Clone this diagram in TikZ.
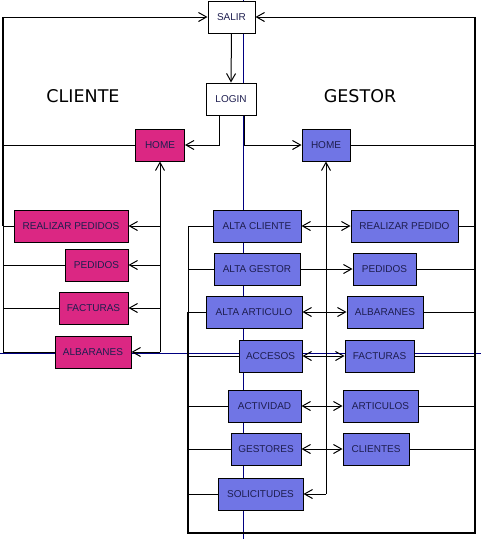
\documentclass[tikz,border=0pt]{standalone}
\usepackage{fontspec}
\setmainfont{Liberation Sans}
\newfontfamily\titulofont{DejaVu Sans}
\usepackage{tikz}
\usetikzlibrary{arrows.meta}
\definecolor{cliente}{RGB}{219,39,131}
\definecolor{gestor}{RGB}{112,117,229}
\definecolor{texto}{RGB}{30,30,80}
\definecolor{eje}{RGB}{0,0,128}

\begin{document}
\begin{tikzpicture}[x=1pt,y=-1pt,
  caja/.style={draw,line width=1pt,minimum height=32pt,inner sep=0pt,font=\fontsize{10}{12}\selectfont,text=texto},
  blanca/.style={caja,fill=white},
  cli/.style={caja,fill=cliente},
  ges/.style={caja,fill=gestor},
  linea/.style={line width=1pt},
  marco/.style={line width=2pt},
  flecha/.style={linea,-{Straight Barb[length=8pt,width=9pt]}},
  dflecha/.style={linea,{Straight Barb[length=8pt,width=9pt]}-{Straight Barb[length=8pt,width=9pt]}},
  titulo/.style={font=\titulofont\fontsize{17.5}{20}\selectfont}]
\useasboundingbox (0,0) rectangle (481,539);
\draw[eje] (243,0) -- (243,539);
\draw[eje] (0,353) -- (481,353);

\coordinate (izq) at (3,17);
\coordinate (der) at (475,17);
\coordinate (izqb) at (3,352);
\coordinate (esqb) at (188,533);
\coordinate (cspine) at (160,352);
\coordinate (gspine) at (326,494);

\node[blanca,minimum width=47pt] (salir) at (231.5,17) {SALIR};
\node[blanca,minimum width=50pt] (login) at (231,99) {LOGIN};
\node[titulo] (tcli) at (83,96) {CLIENTE};
\node[titulo] (tges) at (360,96) {GESTOR};
\node[cli,minimum width=49pt] (chome) at (160,145) {HOME};
\node[ges,minimum width=48pt] (ghome) at (326,145) {HOME};

\node[cli,minimum width=114pt] (crp) at (71,226) {REALIZAR PEDIDOS};
\node[cli,minimum width=63pt] (cped) at (96.5,265) {PEDIDOS};
\node[cli,minimum width=69pt] (cfac) at (93.5,308) {FACTURAS};
\node[cli,minimum width=76pt] (calb) at (93,352) {ALBARANES};

\node[ges,minimum width=88pt] (gacli) at (257,226) {ALTA CLIENTE};
\node[ges,minimum width=86pt] (gages) at (257,269) {ALTA GESTOR};
\node[ges,minimum width=96pt] (gaart) at (254,312) {ALTA ARTICULO};
\node[ges,minimum width=63pt] (gacc) at (270.5,356) {ACCESOS};
\node[ges,minimum width=73pt] (gact) at (264.5,406) {ACTIVIDAD};
\node[ges,minimum width=70pt] (gges) at (266,449) {GESTORES};
\node[ges,minimum width=85pt] (gsol) at (260.5,494) {SOLICITUDES};

\node[ges,minimum width=107pt] (grp) at (404.5,226) {REALIZAR PEDIDO};
\node[ges,minimum width=63pt] (gped) at (384.5,269) {PEDIDOS};
\node[ges,minimum width=76pt] (galb) at (385,312) {ALBARANES};
\node[ges,minimum width=69pt] (gfac) at (379.5,356) {FACTURAS};
\node[ges,minimum width=75pt] (gart) at (380.5,406) {ARTICULOS};
\node[ges,minimum width=66pt] (gcli) at (376,449) {CLIENTES};

\draw[marco] (izq) -- (izq |- crp.west);
\draw[linea] (izq |- crp.west) -- (izqb);
\draw[flecha] (izq) -- (salir.west);
\draw[flecha] (der) -- (salir.east);
\draw[marco] (der) |- (esqb) -- (esqb |- gaart.west);
\draw[linea] (esqb |- gaart.west) -- (esqb |- gacli.west);
\draw[flecha] (salir.south) -- (login.north);
\draw[flecha] ([xshift=-12pt]login.south) |- (chome.east);
\draw[flecha] ([xshift=13pt]login.south) |- (ghome.west);
\draw[linea] (chome.west) -- (chome.west -| izq);
\draw[linea] (ghome.east) -- (ghome.east -| der);

\draw[flecha] (cspine) -- (chome.south);
\foreach \n in {crp,cped,cfac,calb} {
  \draw[linea] (\n.west) -- (\n.west -| izq);
  \draw[flecha] (\n.east -| cspine) -- (\n.east);
}

\draw[flecha] (gspine) -- (ghome.south);
\foreach \a/\b in {gacli/grp,gaart/galb,gacc/gfac,gact/gart,gges/gcli}
  \draw[dflecha] (\a.east) -- (\b.west);
\draw[flecha] (gages.east) -- (gped.west);
\draw[flecha] (gspine) -- (gsol.east);
\foreach \n in {gacli,gages,gaart,gacc,gact,gges,gsol}
  \draw[linea] (\n.west) -- (\n.west -| esqb);
\foreach \n in {grp,gped,galb,gfac,gart,gcli}
  \draw[linea] (\n.east) -- (\n.east -| der);
\end{tikzpicture}
\end{document}
